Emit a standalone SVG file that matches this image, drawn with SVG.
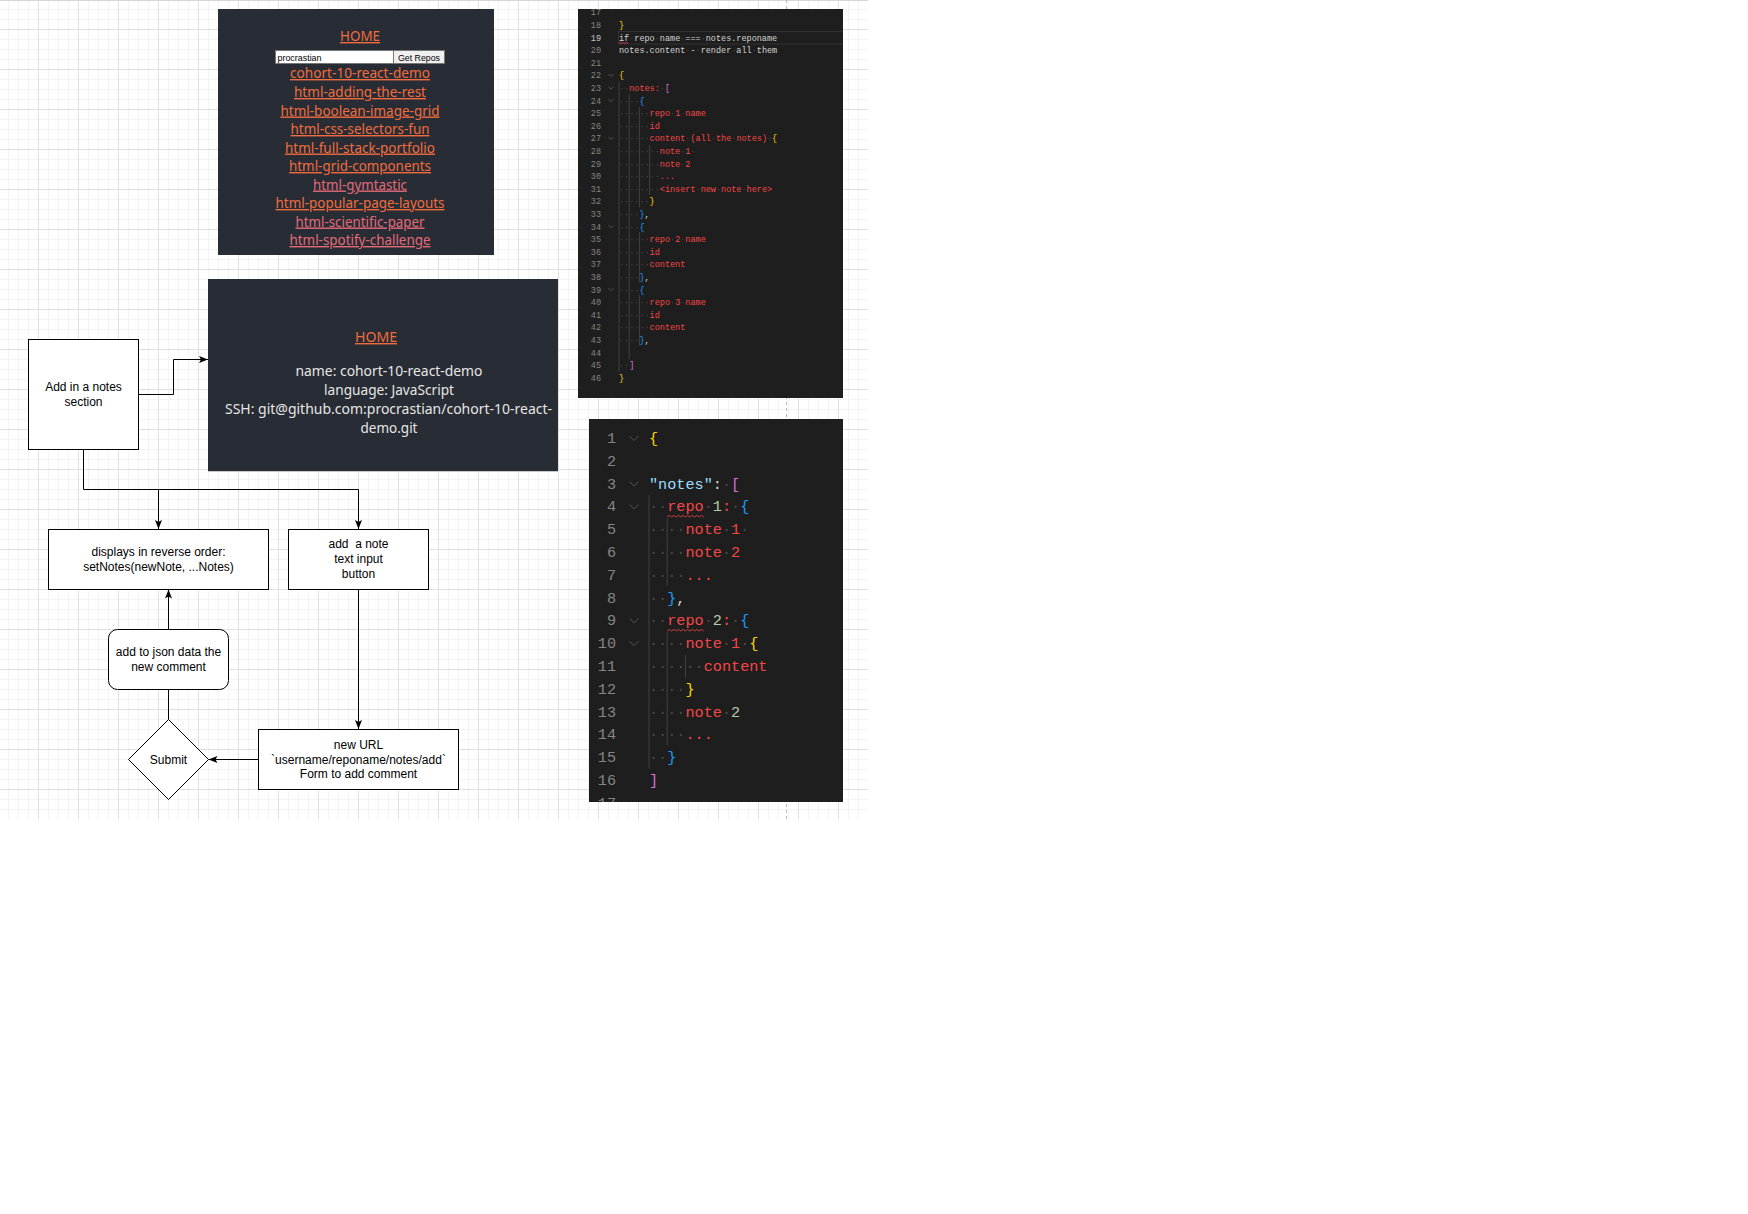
<svg xmlns="http://www.w3.org/2000/svg" width="1748" height="1214" viewBox="0 0 1748 1214">
<defs>
<style>
.fc{font-family:"Liberation Sans",Arial,sans-serif;font-size:12px;fill:#000;text-anchor:middle}
.box{fill:#fff;stroke:#000;stroke-width:1}
.edge{fill:none;stroke:#000;stroke-width:1}
.ui{font-family:"Noto Sans","Open Sans",sans-serif}
.link{fill:#f06c3f;font-size:14px;text-anchor:middle;text-decoration:underline}
.pk{fill:#e36b78}
.info{fill:#e6e6e6;font-size:14px;text-anchor:middle}
.code{font-family:"Liberation Mono","DejaVu Sans Mono",monospace}
.s8{font-size:8.5px}
.s15{font-size:15.2px}
.ln{fill:#858585;text-anchor:end}
.ws{fill:#4a4a4a}
.r{fill:#f44747}
.y{fill:#ffd700}
.p{fill:#da70d6}
.b{fill:#179fff}
.w{fill:#d4d4d4}
.lb{fill:#9cdcfe}
.g{fill:#b5cea8}
.guide{stroke:#404040;stroke-width:1}
.chev{fill:none;stroke:#5a5a5a;stroke-width:0.9}
.sq{fill:none;stroke:#f44747;stroke-width:0.8}
</style>
<pattern id="grid" patternUnits="userSpaceOnUse" x="38" y="29" width="40" height="40">
<rect x="10" y="0" width="1" height="40" fill="#f4f4f4"/>
<rect x="20" y="0" width="1" height="40" fill="#f4f4f4"/>
<rect x="30" y="0" width="1" height="40" fill="#f4f4f4"/>
<rect x="0" y="10" width="40" height="1" fill="#f4f4f4"/>
<rect x="0" y="20" width="40" height="1" fill="#f4f4f4"/>
<rect x="0" y="30" width="40" height="1" fill="#f4f4f4"/>
<rect x="0" y="0" width="1" height="40" fill="#e0e0e0"/>
<rect x="0" y="0" width="40" height="1" fill="#e0e0e0"/>
</pattern>
<marker id="arr" markerUnits="userSpaceOnUse" markerWidth="10" markerHeight="8" refX="9" refY="3.5" orient="auto">
<path d="M0,0 L9,3.5 L0,7 L2,3.5 Z" fill="#000"/>
</marker>
<clipPath id="clipTop"><rect x="578" y="9" width="265" height="389"/></clipPath>
<clipPath id="clipBot"><rect x="589" y="419" width="254" height="383"/></clipPath>
<clipPath id="clipP1"><rect x="218" y="9" width="276" height="246"/></clipPath>
</defs>
<rect width="1748" height="1214" fill="#fff"/>
<rect x="0" y="0" width="868" height="819" fill="url(#grid)"/>
<rect x="0" y="0" width="868" height="1" fill="#d6d6d6"/>
<line x1="786.5" y1="0" x2="786.5" y2="819" stroke="#b8b8b8" stroke-width="1" stroke-dasharray="3,3"/>

<g id="panel-repos">
<rect x="218" y="9" width="276" height="246" fill="#282c34"/>
<g clip-path="url(#clipP1)" class="ui">
<text class="link" x="360" y="41" textLength="40" lengthAdjust="spacingAndGlyphs">HOME</text>
<rect x="275.5" y="50.5" width="118" height="13" fill="#fff" stroke="#767676"/>
<text x="277.5" y="60.5" font-family="Liberation Sans,Arial,sans-serif" font-size="9.5" fill="#000" textLength="44" lengthAdjust="spacingAndGlyphs">procrastian</text>
<rect x="393.5" y="50.5" width="51" height="13" fill="#efefef" stroke="#767676"/>
<text x="419" y="60.5" font-family="Liberation Sans,Arial,sans-serif" font-size="9.5" fill="#000" text-anchor="middle" textLength="42" lengthAdjust="spacingAndGlyphs">Get Repos</text>
<text class="link" x="360" y="78" textLength="140" lengthAdjust="spacingAndGlyphs">cohort-10-react-demo</text>
<text class="link" x="360" y="97" textLength="132" lengthAdjust="spacingAndGlyphs">html-adding-the-rest</text>
<text class="link" x="360" y="115.5" textLength="159" lengthAdjust="spacingAndGlyphs">html-boolean-image-grid</text>
<text class="link" x="360" y="134" textLength="139" lengthAdjust="spacingAndGlyphs">html-css-selectors-fun</text>
<text class="link" x="360" y="152.5" textLength="150" lengthAdjust="spacingAndGlyphs">html-full-stack-portfolio</text>
<text class="link" x="360" y="171" textLength="142" lengthAdjust="spacingAndGlyphs">html-grid-components</text>
<text class="link pk" x="360" y="189.5" textLength="94" lengthAdjust="spacingAndGlyphs">html-gymtastic</text>
<text class="link" x="360" y="208" textLength="169" lengthAdjust="spacingAndGlyphs">html-popular-page-layouts</text>
<text class="link pk" x="360" y="226.5" textLength="129" lengthAdjust="spacingAndGlyphs">html-scientific-paper</text>
<text class="link pk" x="360" y="245" textLength="141" lengthAdjust="spacingAndGlyphs">html-spotify-challenge</text>
</g>
</g>

<g id="panel-home">
<rect x="208" y="279" width="350" height="192" fill="#282c34"/>
<line x1="208" y1="471.5" x2="558" y2="471.5" stroke="#c8c8c8"/>
<g class="ui">
<text class="link" x="376" y="342" textLength="42" lengthAdjust="spacingAndGlyphs">HOME</text>
<text class="info" x="389" y="376" textLength="187" lengthAdjust="spacingAndGlyphs">name: cohort-10-react-demo</text>
<text class="info" x="389" y="395" textLength="130" lengthAdjust="spacingAndGlyphs">language: JavaScript</text>
<text class="info" x="388.5" y="414" textLength="327" lengthAdjust="spacingAndGlyphs">SSH: git@github.com:procrastian/cohort-10-react-</text>
<text class="info" x="389" y="433" textLength="57" lengthAdjust="spacingAndGlyphs">demo.git</text>
</g>
</g>

<g id="code-top">
<rect x="578" y="9" width="265" height="389" fill="#1e1e1e"/>
<g clip-path="url(#clipTop)">
<rect x="618.5" y="31.5" width="230" height="12.5" fill="none" stroke="#333"/>
<g class="guide">
<line x1="619" y1="81.7" x2="619" y2="371.5"/>
<line x1="629.2" y1="94.3" x2="629.2" y2="359"/>
<line x1="639.4" y1="106.9" x2="639.4" y2="207.4"/>
<line x1="639.4" y1="232" x2="639.4" y2="282.4"/>
<line x1="639.4" y1="295" x2="639.4" y2="345.6"/>
<line x1="649.6" y1="145" x2="649.6" y2="195"/>
</g>
<g class="chev">
<path d="M608.5 74 L611 76.5 L613.5 74"/>
<path d="M608.5 86.6 L611 89.1 L613.5 86.6"/>
<path d="M608.5 99.2 L611 101.7 L613.5 99.2"/>
<path d="M608.5 137 L611 139.5 L613.5 137"/>
<path d="M608.5 225.2 L611 227.7 L613.5 225.2"/>
<path d="M608.5 288.2 L611 290.7 L613.5 288.2"/>
</g>
<g class="code s8 ln">
<text x="601" y="15.4">17</text>
<text x="601" y="28">18</text>
<text x="601" y="40.6" fill="#c6c6c6">19</text>
<text x="601" y="53.2">20</text>
<text x="601" y="65.8">21</text>
<text x="601" y="78.4">22</text>
<text x="601" y="91">23</text>
<text x="601" y="103.6">24</text>
<text x="601" y="116.2">25</text>
<text x="601" y="128.8">26</text>
<text x="601" y="141.4">27</text>
<text x="601" y="154">28</text>
<text x="601" y="166.6">29</text>
<text x="601" y="179.2">30</text>
<text x="601" y="191.8">31</text>
<text x="601" y="204.4">32</text>
<text x="601" y="217">33</text>
<text x="601" y="229.6">34</text>
<text x="601" y="242.2">35</text>
<text x="601" y="254.8">36</text>
<text x="601" y="267.4">37</text>
<text x="601" y="280">38</text>
<text x="601" y="292.6">39</text>
<text x="601" y="305.2">40</text>
<text x="601" y="317.8">41</text>
<text x="601" y="330.4">42</text>
<text x="601" y="343">43</text>
<text x="601" y="355.6">44</text>
<text x="601" y="368.2">45</text>
<text x="601" y="380.8">46</text>
</g>
<g class="code s8">
<text x="619" y="28"><tspan class="y">}</tspan></text>
<text x="619" y="40.6"><tspan class="w">if</tspan><tspan class="ws">·</tspan><tspan class="w">repo</tspan><tspan class="ws">·</tspan><tspan class="w">name</tspan><tspan class="ws">·</tspan><tspan class="w">===</tspan><tspan class="ws">·</tspan><tspan class="w">notes.reponame</tspan></text>
<text x="619" y="53.2"><tspan class="w">notes.content</tspan><tspan class="ws">·</tspan><tspan class="w">-</tspan><tspan class="ws">·</tspan><tspan class="w">render</tspan><tspan class="ws">·</tspan><tspan class="w">all</tspan><tspan class="ws">·</tspan><tspan class="w">them</tspan></text>
<text x="619" y="78.4"><tspan class="y">{</tspan></text>
<text x="619" y="91"><tspan class="ws">··</tspan><tspan class="r">notes:</tspan><tspan class="ws">·</tspan><tspan class="p">[</tspan></text>
<text x="619" y="103.6"><tspan class="ws">····</tspan><tspan class="b">{</tspan></text>
<text x="619" y="116.2"><tspan class="ws">······</tspan><tspan class="r">repo</tspan><tspan class="ws">·</tspan><tspan class="r">1</tspan><tspan class="ws">·</tspan><tspan class="r">name</tspan></text>
<text x="619" y="128.8"><tspan class="ws">······</tspan><tspan class="r">id</tspan></text>
<text x="619" y="141.4"><tspan class="ws">······</tspan><tspan class="r">content</tspan><tspan class="ws">·</tspan><tspan class="r">(all</tspan><tspan class="ws">·</tspan><tspan class="r">the</tspan><tspan class="ws">·</tspan><tspan class="r">notes)</tspan><tspan class="ws">·</tspan><tspan class="y">{</tspan></text>
<text x="619" y="154"><tspan class="ws">········</tspan><tspan class="r">note</tspan><tspan class="ws">·</tspan><tspan class="r">1</tspan><tspan class="ws">·</tspan></text>
<text x="619" y="166.6"><tspan class="ws">········</tspan><tspan class="r">note</tspan><tspan class="ws">·</tspan><tspan class="r">2</tspan></text>
<text x="619" y="179.2"><tspan class="ws">········</tspan><tspan class="r">...</tspan></text>
<text x="619" y="191.8"><tspan class="ws">········</tspan><tspan class="r">&lt;insert</tspan><tspan class="ws">·</tspan><tspan class="r">new</tspan><tspan class="ws">·</tspan><tspan class="r">note</tspan><tspan class="ws">·</tspan><tspan class="r">here&gt;</tspan></text>
<text x="619" y="204.4"><tspan class="ws">······</tspan><tspan class="y">}</tspan></text>
<text x="619" y="217"><tspan class="ws">····</tspan><tspan class="b">}</tspan><tspan class="w">,</tspan></text>
<text x="619" y="229.6"><tspan class="ws">····</tspan><tspan class="b">{</tspan></text>
<text x="619" y="242.2"><tspan class="ws">······</tspan><tspan class="r">repo</tspan><tspan class="ws">·</tspan><tspan class="r">2</tspan><tspan class="ws">·</tspan><tspan class="r">name</tspan></text>
<text x="619" y="254.8"><tspan class="ws">······</tspan><tspan class="r">id</tspan></text>
<text x="619" y="267.4"><tspan class="ws">······</tspan><tspan class="r">content</tspan></text>
<text x="619" y="280"><tspan class="ws">····</tspan><tspan class="b">}</tspan><tspan class="w">,</tspan></text>
<text x="619" y="292.6"><tspan class="ws">····</tspan><tspan class="b">{</tspan></text>
<text x="619" y="305.2"><tspan class="ws">······</tspan><tspan class="r">repo</tspan><tspan class="ws">·</tspan><tspan class="r">3</tspan><tspan class="ws">·</tspan><tspan class="r">name</tspan></text>
<text x="619" y="317.8"><tspan class="ws">······</tspan><tspan class="r">id</tspan></text>
<text x="619" y="330.4"><tspan class="ws">······</tspan><tspan class="r">content</tspan></text>
<text x="619" y="343"><tspan class="ws">····</tspan><tspan class="b">}</tspan><tspan class="w">,</tspan></text>
<text x="619" y="368.2"><tspan class="ws">··</tspan><tspan class="p">]</tspan></text>
<text x="619" y="380.8"><tspan class="y">}</tspan></text>
</g>
<path class="sq" d="M619 43.5 l1.5 -1 l1.5 1 l1.5 -1 l1.5 1 l1.5 -1 l1.5 1"/>
</g>
</g>

<g id="code-bottom">
<rect x="589" y="419" width="254" height="383" fill="#1e1e1e"/>
<g clip-path="url(#clipBot)">
<g class="guide">
<line x1="649" y1="495" x2="649" y2="768.6"/>
<line x1="667.2" y1="518.2" x2="667.2" y2="585.4"/>
<line x1="667.2" y1="632" x2="667.2" y2="745.6"/>
<line x1="685.5" y1="654.8" x2="685.5" y2="677.6"/>
</g>
<g class="chev">
<path d="M629.5 436 L634 440.5 L638.5 436"/>
<path d="M629.5 481.6 L634 486.1 L638.5 481.6"/>
<path d="M629.5 504.4 L634 508.9 L638.5 504.4"/>
<path d="M629.5 618.4 L634 622.9 L638.5 618.4"/>
<path d="M629.5 641.2 L634 645.7 L638.5 641.2"/>
</g>
<g class="code s15 ln">
<text x="616" y="443">1</text>
<text x="616" y="465.8">2</text>
<text x="616" y="488.6">3</text>
<text x="616" y="511.4">4</text>
<text x="616" y="534.2">5</text>
<text x="616" y="557">6</text>
<text x="616" y="579.8">7</text>
<text x="616" y="602.6">8</text>
<text x="616" y="625.4">9</text>
<text x="616" y="648.2">10</text>
<text x="616" y="671">11</text>
<text x="616" y="693.8">12</text>
<text x="616" y="716.6">13</text>
<text x="616" y="739.4">14</text>
<text x="616" y="762.2">15</text>
<text x="616" y="785">16</text>
<text x="616" y="807.8">17</text>
</g>
<g class="code s15">
<text x="649" y="443"><tspan class="y">{</tspan></text>
<text x="649" y="488.6"><tspan class="lb">"notes"</tspan><tspan class="w">:</tspan><tspan class="ws">·</tspan><tspan class="p">[</tspan></text>
<text x="649" y="511.4"><tspan class="ws">··</tspan><tspan class="r">repo</tspan><tspan class="ws">·</tspan><tspan class="g">1</tspan><tspan class="r">:</tspan><tspan class="ws">·</tspan><tspan class="b">{</tspan></text>
<text x="649" y="534.2"><tspan class="ws">····</tspan><tspan class="r">note</tspan><tspan class="ws">·</tspan><tspan class="r">1</tspan><tspan class="ws">·</tspan></text>
<text x="649" y="557"><tspan class="ws">····</tspan><tspan class="r">note</tspan><tspan class="ws">·</tspan><tspan class="r">2</tspan></text>
<text x="649" y="579.8"><tspan class="ws">····</tspan><tspan class="r">...</tspan></text>
<text x="649" y="602.6"><tspan class="ws">··</tspan><tspan class="b">}</tspan><tspan class="w">,</tspan></text>
<text x="649" y="625.4"><tspan class="ws">··</tspan><tspan class="r">repo</tspan><tspan class="ws">·</tspan><tspan class="g">2</tspan><tspan class="r">:</tspan><tspan class="ws">·</tspan><tspan class="b">{</tspan></text>
<text x="649" y="648.2"><tspan class="ws">····</tspan><tspan class="r">note</tspan><tspan class="ws">·</tspan><tspan class="r">1</tspan><tspan class="ws">·</tspan><tspan class="y">{</tspan></text>
<text x="649" y="671"><tspan class="ws">······</tspan><tspan class="r">content</tspan></text>
<text x="649" y="693.8"><tspan class="ws">····</tspan><tspan class="y">}</tspan></text>
<text x="649" y="716.6"><tspan class="ws">····</tspan><tspan class="r">note</tspan><tspan class="ws">·</tspan><tspan class="g">2</tspan></text>
<text x="649" y="739.4"><tspan class="ws">····</tspan><tspan class="r">...</tspan></text>
<text x="649" y="762.2"><tspan class="ws">··</tspan><tspan class="b">}</tspan></text>
<text x="649" y="785"><tspan class="p">]</tspan></text>
</g>
<path class="sq" d="M667 517 l2.3 -1.6 l2.3 1.6 l2.3 -1.6 l2.3 1.6 l2.3 -1.6 l2.3 1.6 l2.3 -1.6 l2.3 1.6 l2.3 -1.6 l2.3 1.6 l2.3 -1.6 l2.3 1.6 l2.3 -1.6 l2.3 1.6 l2.3 -1.6 l2.3 1.6"/>
<path class="sq" d="M667 631 l2.3 -1.6 l2.3 1.6 l2.3 -1.6 l2.3 1.6 l2.3 -1.6 l2.3 1.6 l2.3 -1.6 l2.3 1.6 l2.3 -1.6 l2.3 1.6 l2.3 -1.6 l2.3 1.6 l2.3 -1.6 l2.3 1.6 l2.3 -1.6 l2.3 1.6"/>
</g>
</g>

<g id="connectors">
<path class="edge" d="M138.5 394.5 H173.5 V359.5 H208" marker-end="url(#arr)"/>
<path class="edge" d="M83.5 449.5 V489.5 H358.5 V529" marker-end="url(#arr)"/>
<path class="edge" d="M158.5 489.5 V529" marker-end="url(#arr)"/>
<path class="edge" d="M358.5 589.5 V729" marker-end="url(#arr)"/>
<path class="edge" d="M258.5 759.5 H208.5" marker-end="url(#arr)"/>
<path class="edge" d="M168.5 719.5 V689.5"/>
<path class="edge" d="M168.5 629.5 V589.5" marker-end="url(#arr)"/>
</g>

<g id="node-add-notes">
<rect class="box" x="28.5" y="339.5" width="110" height="110"/>
<text class="fc" x="83.5" y="391">Add in a notes</text>
<text class="fc" x="83.5" y="406">section</text>
</g>
<g id="node-displays">
<rect class="box" x="48.5" y="529.5" width="220" height="60"/>
<text class="fc" x="158.5" y="556">displays in reverse order:</text>
<text class="fc" x="158.5" y="571">setNotes(newNote, ...Notes)</text>
</g>
<g id="node-add-note">
<rect class="box" x="288.5" y="529.5" width="140" height="60"/>
<text class="fc" x="358.5" y="548" xml:space="preserve">add  a note</text>
<text class="fc" x="358.5" y="563">text input</text>
<text class="fc" x="358.5" y="578">button</text>
</g>
<g id="node-new-url">
<rect class="box" x="258.5" y="729.5" width="200" height="60"/>
<text class="fc" x="358.5" y="749">new URL</text>
<text class="fc" x="358.5" y="763.5">`username/reponame/notes/add`</text>
<text class="fc" x="358.5" y="778">Form to add comment</text>
</g>
<g id="node-submit">
<path class="box" d="M168.5 719.5 L208.5 759.5 L168.5 799.5 L128.5 759.5 Z"/>
<text class="fc" x="168.5" y="763.5">Submit</text>
</g>
<g id="node-add-json">
<rect class="box" x="108.5" y="629.5" width="120" height="60" rx="9" ry="9"/>
<text class="fc" x="168.5" y="656">add to json data the</text>
<text class="fc" x="168.5" y="671">new comment</text>
</g>
</svg>
